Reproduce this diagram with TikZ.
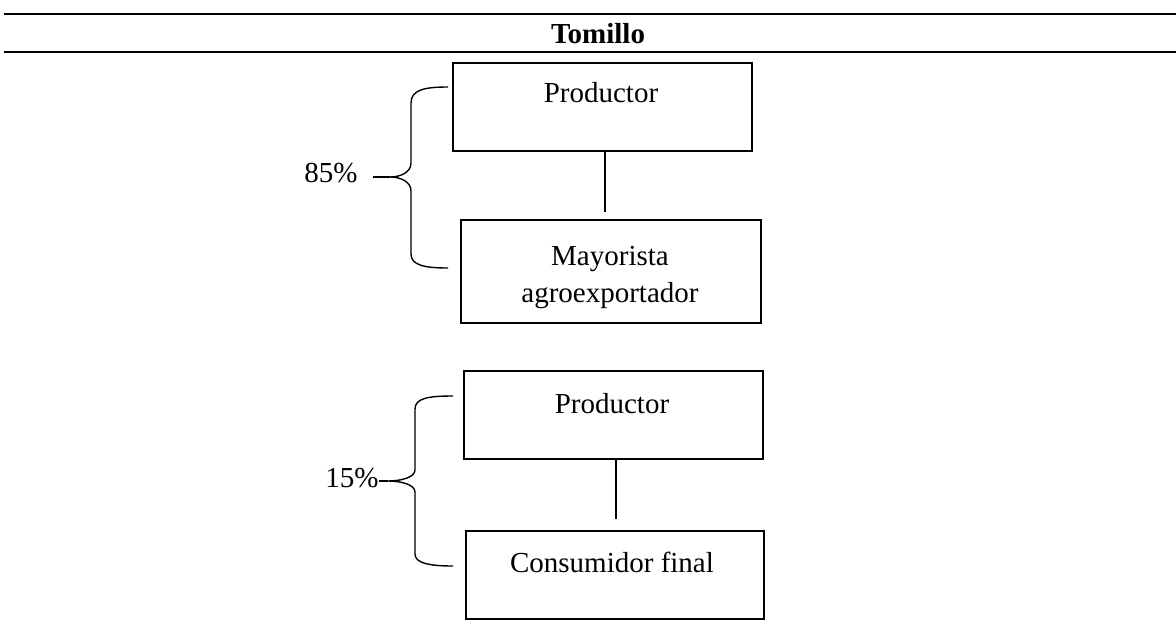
\documentclass[tikz,border=0pt]{standalone}
\usepackage{fontspec}
\setmainfont{Liberation Serif}
\begin{document}
\begin{tikzpicture}[x=1pt,y=-1pt,
  box/.style={draw, line width=2.3pt, inner sep=0pt, anchor=north west},
  txt/.style={anchor=base, inner sep=0pt, font=\fontsize{29}{34}\selectfont},
  conn/.style={line width=1.4pt},
  brace/.style={line width=1.4pt},
  rule/.style={line width=2pt}]
\useasboundingbox (0,0) rectangle (1176,643);
% rules and title
\coordinate (r1a) at (4,14); \coordinate (r1b) at (1176,14);
\coordinate (r2a) at (4,52); \coordinate (r2b) at (1176,52);
\draw[line width=1.6pt] (r1a) -- (r1b);
\draw[rule] (r2a) -- (r2b);
\node[txt, font=\fontsize{29}{34}\selectfont\bfseries] (title) at (598,43) {Tomillo};
% boxes
\node[box, minimum width=299pt, minimum height=88pt] (p1) at (452,62) {};
\node[box, minimum width=300pt, minimum height=103pt] (m1) at (460,219) {};
\node[box, minimum width=299pt, minimum height=88pt] (p2) at (463,370) {};
\node[box, minimum width=298pt, minimum height=88pt] (c2) at (465,530) {};
% texts
\node[txt] (tp1) at (601,102) {Productor};
\node[txt] (tm1a) at (610,265) {Mayorista};
\node[txt] (tm1b) at (610,302) {agroexportador};
\node[txt] (tp2) at (612,413) {Productor};
\node[txt] (tc2) at (612,572) {Consumidor final};
% connectors
\coordinate (k1) at (605,212);
\coordinate (k2) at (616,519);
\draw[conn] (p1.south -| k1) -- (k1);
\draw[conn] (p2.south -| k2) -- (k2);
% labels
\node[txt] (l85) at (331,182) {85\%};
\node[txt] (l15) at (352,487) {15\%};
\coordinate (t1) at (390,177);
\coordinate (t2) at (388,481);
\coordinate (s1) at (373,177);
\draw[brace] (s1) -- (t1);
\draw[brace] (l15.east |- t2) -- (t2);
% braces
\draw[brace] (448,87) .. controls (424,87) and (411,90) .. (411,103) -- (411,163)
  .. controls (411,172) and (401,177) .. (t1)
  .. controls (401,177) and (411,182) .. (411,191) -- (411,254)
  .. controls (411,265) and (424,268) .. (448,268);
\draw[brace] (453,396) .. controls (429,396) and (415,398) .. (415,409) -- (415,470)
  .. controls (415,477) and (402,481) .. (t2)
  .. controls (402,481) and (415,485) .. (415,492) -- (415,554)
  .. controls (415,563) and (429,566) .. (453,566);
\end{tikzpicture}
\end{document}
